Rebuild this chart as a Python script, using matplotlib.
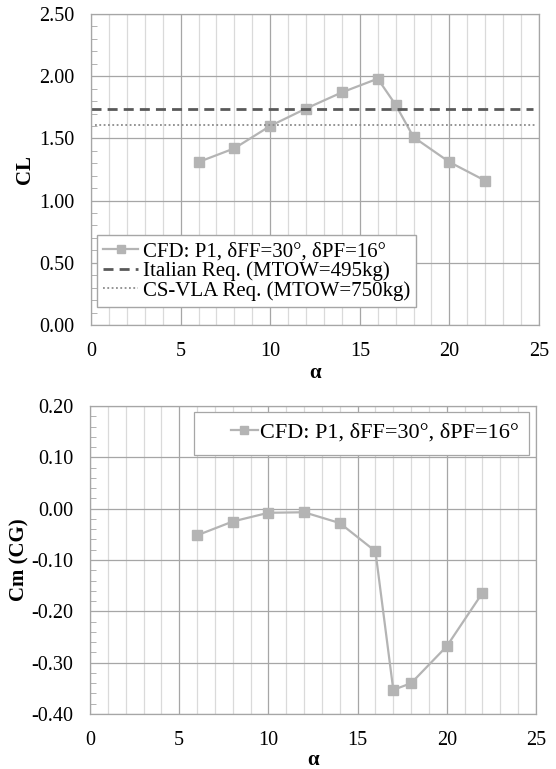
import numpy as np
import matplotlib.pyplot as plt
from matplotlib.ticker import MultipleLocator
from matplotlib.patches import Rectangle

plt.rcParams['font.family'] = ['Liberation Serif', 'DejaVu Serif']

# data
alpha = [6, 8, 10, 12, 14, 16, 17, 18, 20, 22]
cl = [1.31, 1.42, 1.60, 1.74, 1.87, 1.98, 1.77, 1.51, 1.31, 1.16]
cm = [-0.052, -0.025, -0.008, -0.007, -0.028, -0.083, -0.353, -0.340, -0.268, -0.164]
cl_italian = 1.74
cl_csvla = 1.61

lbl_cfd = "CFD: P1, \u03b4FF=30\u00b0, \u03b4PF=16\u00b0"
lbl_ita = "Italian Req. (MTOW=495kg)"
lbl_vla = "CS-VLA Req. (MTOW=750kg)"

series_col = "#b4b4b4"
major_col = "#a6a6a6"
minor_col = "#dadada"

fig = plt.figure(figsize=(5.56, 7.69), dpi=100)
ax1 = fig.add_axes([91/556, 1-325/769, 448/556, 311/769])
ax2 = fig.add_axes([90/556, 1-714/769, 446/556, 308/769])


def style(ax, ymaj, ymin, xlabelpad):
    ax.set_xlim(0, 25)
    ax.xaxis.set_major_locator(MultipleLocator(5))
    ax.xaxis.set_minor_locator(MultipleLocator(1))
    ax.yaxis.set_major_locator(MultipleLocator(ymaj))
    ax.yaxis.set_minor_locator(MultipleLocator(ymin))
    ax.grid(True, which='major', color=major_col, lw=0.9)
    ax.grid(True, which='minor', axis='x', color=minor_col, lw=0.9)
    ax.set_axisbelow(True)
    for s in ax.spines.values():
        s.set_color(major_col)
        s.set_linewidth(0.9)
    ax.tick_params(which='major', length=0, labelsize=14.5)
    ax.tick_params(which='major', axis='x', pad=12)
    ax.tick_params(which='major', axis='y', pad=12)
    ax.tick_params(which='minor', axis='y', direction='in', length=4, color=major_col)
    ax.tick_params(which='minor', axis='x', length=0)
    ax.yaxis.set_major_formatter(lambda v, p: f"{v:.2f}")
    ax.set_xlabel("\u03b1", fontsize=15, fontweight='bold', labelpad=xlabelpad)


ax1.plot(alpha, cl, color=series_col, lw=1.6, marker='s', ms=7.5, label=lbl_cfd)
ax1.axhline(cl_italian, xmin=0.0, xmax=0.987, color="#595959", lw=2, ls=(0, (3.6, 2.2)), label=lbl_ita)
ax1.axhline(cl_csvla, xmin=0.01, xmax=0.99, color="#8c8c8c", lw=1.3, ls=(0, (1, 1.4)), label=lbl_vla)
ax1.set_ylim(0, 2.5)
style(ax1, 0.5, 0.1, 2)
ax1.set_ylabel("CL", fontsize=15, fontweight='bold', labelpad=3)
ax1.legend(loc='lower left', bbox_to_anchor=(0.013, 0.058), borderaxespad=0, fontsize=15,
           fancybox=False, framealpha=1, edgecolor=major_col, borderpad=0.3, labelspacing=0.0,
           handlelength=1.7, handletextpad=0.2, markerscale=0.75)

ax2.plot(alpha, cm, color=series_col, lw=1.6, marker='s', ms=7.5, label=lbl_cfd)
ax2.set_ylim(-0.4, 0.2)
style(ax2, 0.1, 0.02, 0)
ax2.set_ylabel("Cm (CG)", fontsize=15, fontweight='bold', labelpad=1)
ax2.add_patch(Rectangle((0.233, 0.841), 0.751, 0.14, transform=ax2.transAxes,
                        facecolor='white', edgecolor=major_col, lw=0.9, zorder=4.5))
ax2.legend(loc='upper right', bbox_to_anchor=(0.984, 0.981), borderaxespad=0, fontsize=16,
           frameon=False, borderpad=0.45, handlelength=1.2, handletextpad=0.1,
           markerscale=0.75)

fig.savefig("out.png", dpi=100)
